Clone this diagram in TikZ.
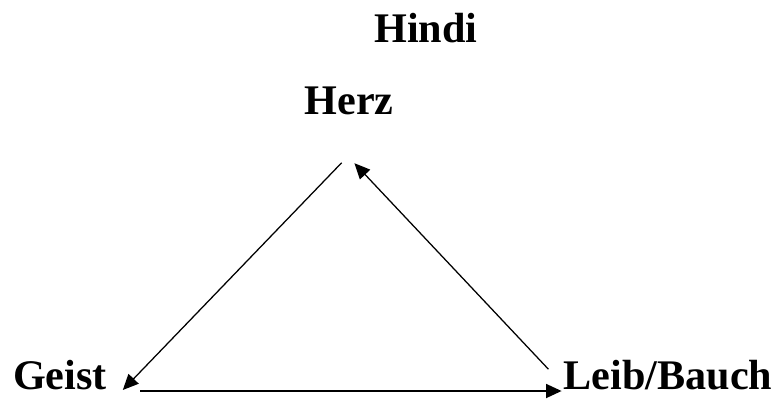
\documentclass[tikz,border=0pt]{standalone}
\usepackage{fontspec}
\setmainfont{Liberation Serif}
\usetikzlibrary{arrows.meta}
\tikzset{
  word/.style={font=\fontsize{30}{36}\selectfont\bfseries,anchor=base,inner sep=0pt},
  link/.style={->,line width=0.9pt},
  baselink/.style={->,line width=1.3pt}
}
\begin{document}
\begin{tikzpicture}[>={Triangle[length=3.9mm,width=3.5mm]}]
\path[use as bounding box] (0,0) rectangle (19.475,9.95);
\node[word] (hindi) at (10.65,8.9) {Hindi};
\node[word] (herz) at (8.725,7.075) {Herz};
\node[word] (geist) at (1.5,0.22) {Geist};
\node[word] (leib) at (16.7,0.22) {Leib/Bauch};
% free ends of the three arrows
\coordinate (herzL) at (8.54,5.88);
\coordinate (herzR) at (8.86,5.87);
\coordinate (geistT) at (3.07,0.2);
\coordinate (geistR) at (3.5,0.175);
\coordinate (leibL) at (14.04,0.175);
\coordinate (leibT) at (13.71,0.72);
\draw[link] (herzL)--(geistT);
\draw[link] (leibT)--(herzR);
\draw[baselink] (geistR)--(leibL);
\end{tikzpicture}
\end{document}
